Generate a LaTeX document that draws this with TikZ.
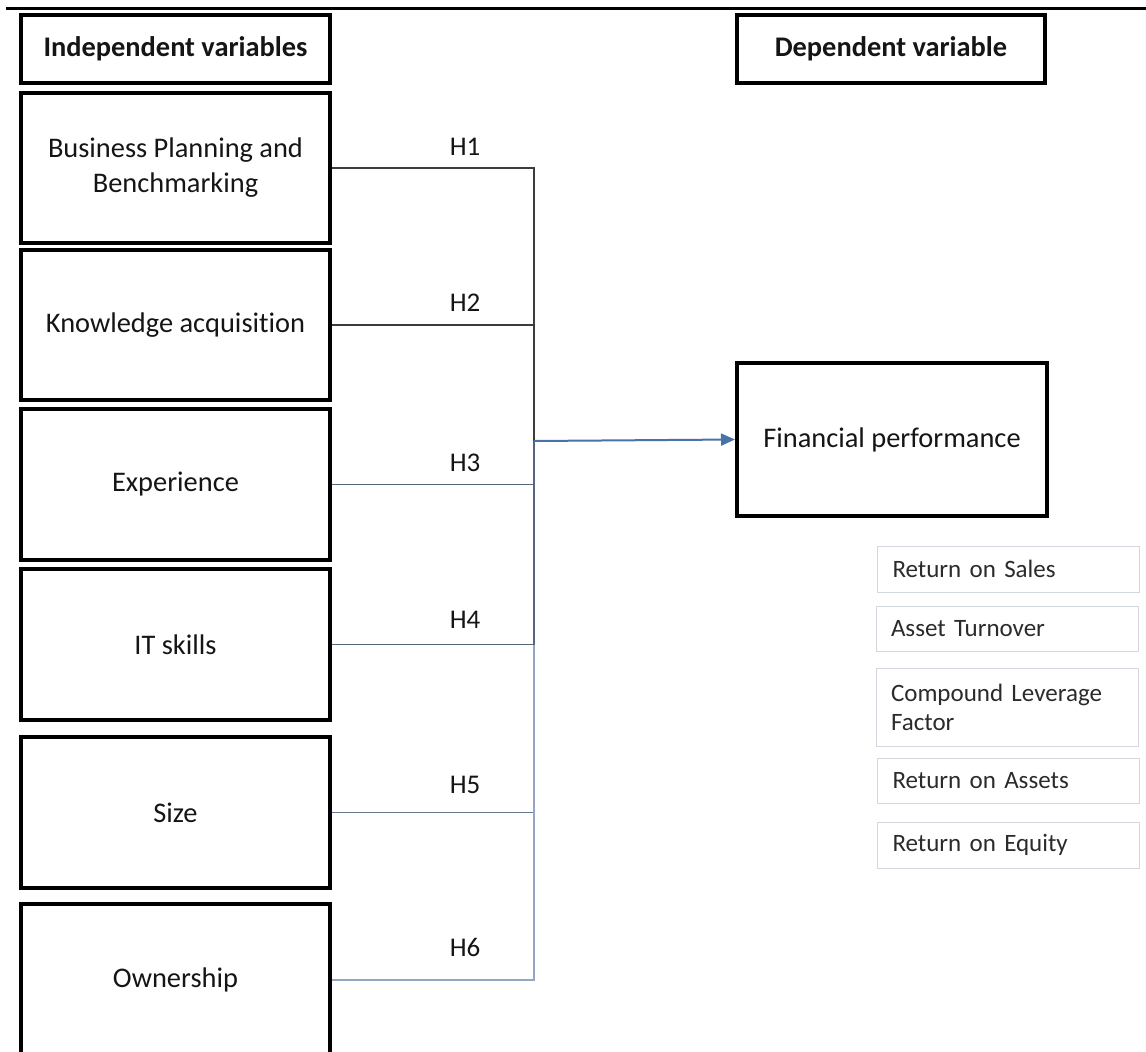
\documentclass[tikz,border=0pt]{standalone}
\usepackage{fontspec}
\setmainfont[Ligatures={NoCommon}]{Carlito}
\usetikzlibrary{arrows.meta}

\definecolor{ink}{HTML}{151515}
\definecolor{linkdark}{HTML}{3C3C3C}
\definecolor{linkmid}{HTML}{55667F}
\definecolor{linklight}{HTML}{93A6C4}
\definecolor{arrowblue}{HTML}{4A72AA}
\definecolor{metricline}{HTML}{D3D8DE}
\definecolor{metrictext}{HTML}{2B2B2B}

\begin{document}
\begin{tikzpicture}[x=1pt,y=-1pt,
  varbox/.style={draw=black, line width=4pt, align=center, text=ink,
    font=\fontsize{28.4}{35}\selectfont, minimum width=309pt, inner sep=0pt},
  headbox/.style={varbox, font=\fontsize{28.4}{35}\selectfont\bfseries, minimum height=68pt},
  hlabel/.style={font=\fontsize{27}{32}\selectfont, text=ink},
  metric/.style={draw=metricline, line width=1pt, text=metrictext, align=left,
    font=\fontsize{25}{29}\selectfont, text width=232pt, inner xsep=15pt,
    inner ysep=0pt, minimum height=46pt},
  link/.style={line width=1.5pt, line join=miter},
  flow/.style={line width=2pt, draw=arrowblue, -{Triangle[length=14pt,width=12pt]}}
]
\clip (0,0) rectangle (1146,1052);
\fill[white] (0,0) rectangle (1146,1052);

% rule across the top
\coordinate (ruleL) at (6,8);
\coordinate (ruleR) at (1146,8);
\draw[line width=3pt] (ruleL) -- (ruleR);

% column headings
\node[headbox] (indep) at (175.5,49) {Independent variables};
\node[headbox, minimum width=308pt] (dep) at (891,49) {Dependent variable};

% independent variables
\node[varbox, minimum height=150pt] (bp)   at (175.5,168)   {Business Planning and\\Benchmarking};
\node[varbox, minimum height=150pt] (ka)   at (175.5,325)   {Knowledge acquisition};
\node[varbox, minimum height=151pt] (exp)  at (175.5,484.5) {Experience};
\node[varbox, minimum height=151pt] (it)   at (175.5,644.5) {IT skills};
\node[varbox, minimum height=151pt] (size) at (175.5,812.5) {Size};
\node[varbox, minimum height=152pt] (own)  at (175.5,980)   {Ownership};

% dependent variable
\node[varbox, minimum width=310pt, minimum height=153pt] (fp) at (892,439.5) {Financial performance};

% measures of financial performance
\node[metric] (ros) at (1008.5,569) {Return on Sales};
\node[metric, minimum height=45pt] (at) at (1007,628.5) {Asset Turnover};
\node[metric, minimum height=78pt] (clf) at (1007,707) {Compound Leverage\\Factor};
\node[metric, minimum height=45pt] (roa) at (1008.5,780.5) {Return on Assets};
\node[metric] (roe) at (1008.5,845) {Return on Equity};

% junction points on the collecting line
\coordinate (j1) at (534,168);
\coordinate (j2) at (534,325);
\coordinate (j3) at (534,484.5);
\coordinate (j4) at (534,644.5);
\coordinate (j5) at (534,812.5);
\coordinate (j6) at (534,980);
\coordinate (jm) at (534,441);

% hypothesis links
\draw[link, draw=linkdark] (bp.east) -- (j1) -- (jm);
\draw[link, draw=linkdark] (ka.east) -- (j2);
\draw[link, draw=linkmid] (exp.east) -- (j3);
\draw[link, draw=linkmid] (it.east) -- (j4);
\draw[link, draw=linkmid!70!linklight] (size.east) -- (j5);
\draw[link, draw=linkmid] (jm) -- (j4);
\draw[link, draw=linklight] (j4) -- (j6) -- (own.east);

% link into the dependent variable
\draw[flow] (jm) -- (fp.west);

% hypothesis labels
\node[hlabel] (h1) at (465,147) {H1};
\node[hlabel] (h2) at (465,303) {H2};
\node[hlabel] (h3) at (465,463) {H3};
\node[hlabel] (h4) at (465,620) {H4};
\node[hlabel] (h5) at (465,785) {H5};
\node[hlabel] (h6) at (465,947) {H6};
\end{tikzpicture}
\end{document}
